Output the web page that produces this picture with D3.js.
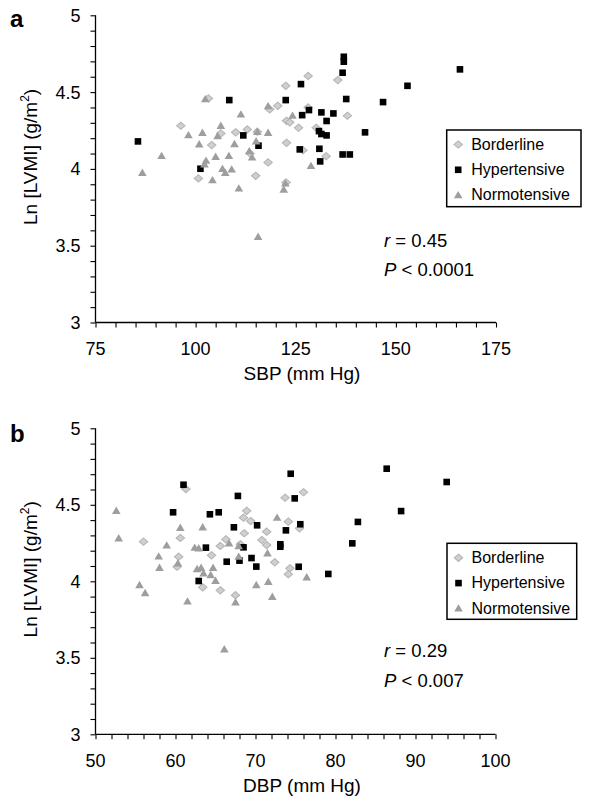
<!DOCTYPE html>
<html><head><meta charset="utf-8">
<script src="https://cdn.jsdelivr.net/npm/d3@7"></script>
<style>body{margin:0;background:#fff}svg{display:block}text{font-family:"Liberation Sans",Arial,sans-serif;fill:#000}</style>
</head><body>
<svg id="c" width="592" height="803"></svg>
<script>
// ---------- Data ----------
const seriesNames = ["Borderline", "Hypertensive", "Normotensive"];

// Panel a: SBP (mm Hg) vs Ln[LVMI]
const sbpBorderline = [[103.2,4.459],[96.3,4.281],[106.3,4.231],[104,4.155],[110,4.238],[112.9,4.257],[115.4,4.242],[113.6,4.101],[118.1,4.042],[115,3.955],[100.7,3.938],[118.5,4.388],[120.5,4.411],[122.5,4.541],[128.1,4.605],[122.7,4.313],[123.5,4.303],[125.7,4.268],[122.7,4.17],[122.6,3.912],[128.1,4.40],[135.5,4.578],[137.9,4.346],[130.1,4.268],[126.8,4.122],[132.6,4.083]];
const sbpHypertensive = [[85.6,4.179],[101.2,4.001],[108.4,4.448],[111.9,4.218],[115.7,4.151],[126.3,4.552],[122.5,4.448],[128.3,4.383],[126.6,4.35],[131.4,4.368],[130.8,4.246],[131.4,4.227],[132.7,4.218],[126,4.127],[130.9,4.131],[131.1,4.049],[137,4.73],[137,4.698],[136.7,4.626],[137.6,4.455],[146.8,4.435],[152.9,4.541],[166,4.648],[132.7,4.312],[134.4,4.361],[142.3,4.238],[136.7,4.094],[138.5,4.094]];
const sbpNormotensive = [[102.4,4.454],[111.3,4.355],[106.3,4.281],[98.2,4.22],[101.7,4.235],[105.5,4.214],[100.9,4.16],[109.7,4.162],[115.4,4.242],[118.1,4.235],[115.1,4.18],[91.5,4.085],[86.7,3.975],[105,4.079],[108.3,4.085],[102.6,4.054],[102.2,4.03],[113.4,4.116],[114.1,4.075],[106.7,4.001],[107.4,3.975],[109,3.997],[104.2,3.927],[110.8,3.873],[122.4,3.906],[122,3.866],[115.6,3.558],[118.1,4.409],[124.2,4.347],[128.8,4.02]];

// Panel b: DBP (mm Hg) vs Ln[LVMI]
const dbpBorderline = [[61.3,4.603],[56,4.259],[60.6,4.283],[60.4,4.161],[60.2,4.095],[63.4,3.961],[64.5,4.17],[65.6,4.231],[66.3,4.274],[65.6,3.941],[67.5,3.909],[68.1,4.242],[68.6,4.314],[68.9,4.461],[68.5,4.416],[69.4,4.394],[71.4,4.324],[70.8,4.27],[71.4,4.237],[72.4,4.124],[73.7,4.546],[74.1,4.39],[74.3,4.085],[74.1,4.046],[76,4.582],[75.5,4.346]];
const dbpHypertensive = [[61,4.631],[59.7,4.451],[64.3,4.438],[65.4,4.451],[67.8,4.558],[67.3,4.353],[63.8,4.22],[68.5,4.222],[62.9,4.002],[66.4,4.128],[68,4.135],[69.5,4.152],[70.1,4.096],[70.2,4.366],[73.8,4.333],[73.1,4.242],[73.1,4.226],[74.4,4.703],[74.9,4.542],[75.6,4.373],[75.4,4.095],[86.4,4.736],[93.9,4.649],[88.2,4.459],[82.8,4.388],[82.1,4.248],[79.1,4.048]];
const dbpNormotensive = [[52.6,4.461],[52.9,4.281],[60.6,4.35],[63.4,4.353],[58.9,4.235],[57.9,4.163],[58,4.089],[55.5,3.976],[56.2,3.924],[61.5,3.869],[62.4,4.22],[62.9,4.216],[60.3,4.118],[62.7,4.08],[63.2,4.089],[63.5,4.052],[64.7,4.089],[64.4,4.041],[65,4.004],[66.7,4.248],[67.9,4.231],[67.9,4.161],[67.5,3.863],[66.1,3.556],[70.1,3.976],[71.6,3.997],[72.1,3.899],[71.5,4.183],[72.7,4.416],[76.4,4.026]];

const yTickLabels = ["3", "3.5", "4", "4.5", "5"];
const sbpTickLabels = ["75", "100", "125", "150", "175"];
const dbpTickLabels = ["50", "60", "70", "80", "90", "100"];
const statsA = ["0.45", "0.0001"];
const statsB = ["0.29", "0.007"];

// ---------- Drawing ----------
const svg = d3.select("#c");
svg.append("rect").attr("width",592).attr("height",803).attr("fill","#fff");

const styles = {
  Borderline:   {fill:"#cfcfcf", stroke:"#b5b5b5"},
  Hypertensive: {fill:"#000", stroke:"none"},
  Normotensive: {fill:"#9e9e9e", stroke:"none"}
};
function drawMarker(g, name, x, y) {
  const s = styles[name];
  if (name === "Borderline") {
    g.append("path").attr("d", d3.symbol(d3.symbolDiamond2, 34)())
      .attr("transform", `translate(${x},${y}) scale(1.15,1)`).attr("fill", s.fill).attr("stroke", s.stroke).attr("stroke-width", 1);
  } else if (name === "Hypertensive") {
    g.append("rect").attr("x", x-3.3).attr("y", y-3.3).attr("width", 6.6).attr("height", 6.6).attr("fill", s.fill);
  } else {
    g.append("path").attr("d", `M${x},${y-4.2}L${x+4.3},${y+3.2}L${x-4.3},${y+3.2}Z`).attr("fill", s.fill);
  }
}

function panel(cfg) {
  const x = d3.scaleLinear().domain(cfg.xDomain).range([cfg.left, cfg.right]);
  const y = d3.scaleLinear().domain([3, 5]).range([cfg.bottom, cfg.top]);
  const g = svg.append("g");

  // y axis
  const ya = g.append("g").attr("transform", `translate(${cfg.left},0)`)
    .call(d3.axisLeft(y).tickValues(d3.range(30, 51).map(v => v/10)).tickSize(5).tickFormat(""));
  ya.select(".domain").attr("stroke","#000").attr("stroke-width",1.3).attr("d", `M0,${cfg.bottom}V${cfg.top}`);
  ya.selectAll(".tick line").attr("stroke","#000").attr("stroke-width",1.1);
  yTickLabels.forEach(t => {
    g.append("text").attr("x", cfg.left - 15).attr("y", y(+t)).attr("dy","0.36em")
      .attr("text-anchor","end").attr("font-size",18).text(t);
  });

  // x axis
  const xa = g.append("g").attr("transform", `translate(0,${cfg.bottom})`)
    .call(d3.axisBottom(x).tickValues(d3.range(cfg.xDomain[0], cfg.xDomain[1] + 0.001, cfg.minor)).tickSize(5).tickFormat(""));
  xa.select(".domain").attr("stroke","#000").attr("stroke-width",1.3).attr("d", `M${cfg.left},0H${cfg.right}`);
  xa.selectAll(".tick line").attr("stroke","#000").attr("stroke-width",1.1);
  cfg.xLabels.forEach(t => {
    g.append("text").attr("x", x(+t)).attr("y", cfg.bottom + 32.5)
      .attr("text-anchor","middle").attr("font-size",18).text(t);
  });

  // titles
  g.append("text").attr("x", 302).attr("y", cfg.bottom + 57.5).attr("text-anchor","middle")
    .attr("font-size",19).text(cfg.xTitle);
  const yt = g.append("text").attr("transform", `translate(37,${(cfg.top+cfg.bottom)/2 - 12}) rotate(-90)`)
    .attr("text-anchor","middle").attr("font-size",19);
  yt.append("tspan").text("Ln [LVMI] (g/m");
  yt.append("tspan").attr("font-size",12).attr("dy",-8).text("2");
  yt.append("tspan").attr("dy",8).text(")");

  // panel label
  g.append("text").attr("x", 10).attr("y", cfg.top + cfg.labelDy).attr("font-size",24)
    .attr("font-weight","bold").text(cfg.label);

  // points
  const pg = g.append("g");
  cfg.series.forEach((data, i) => {
    data.forEach(d => drawMarker(pg, seriesNames[i], x(d[0]), y(d[1])));
  });

  // legend
  const lg = g.append("g");
  lg.append("rect").attr("x", cfg.legend[0]).attr("y", cfg.legend[1]).attr("width", cfg.legend[2]).attr("height", cfg.legend[3])
    .attr("fill","#fff").attr("stroke","#000").attr("stroke-width",1.5);
  seriesNames.forEach((n, i) => {
    const yy = cfg.legend[1] + 14 + i * 25.3;
    drawMarker(lg, n, cfg.legend[0] + 11.5, yy + 0.5);
    lg.append("text").attr("x", cfg.legend[0] + 24.5).attr("y", yy).attr("dy","0.36em")
      .attr("font-size",16).text(n);
  });

  // stats
  const st = g.append("g").attr("font-size",18.5);
  const t1 = st.append("text").attr("x", 384).attr("y", cfg.statsY[0]);
  t1.append("tspan").attr("font-style","italic").text("r");
  t1.append("tspan").text(" = " + cfg.stats[0]);
  const t2 = st.append("text").attr("x", 384).attr("y", cfg.statsY[1]);
  t2.append("tspan").attr("font-style","italic").text("P");
  t2.append("tspan").text(" < " + cfg.stats[1]);
}

panel({
  xDomain:[75,175], minor:5, left:95.5, right:496, top:15.3, bottom:322.5,
  xLabels: sbpTickLabels, xTitle:"SBP (mm Hg)", label:"a", labelDy:12,
  series:[sbpBorderline, sbpHypertensive, sbpNormotensive],
  legend:[446.7,130,134.3,76.7], stats: statsA, statsY:[246.5,275.5]
});
panel({
  xDomain:[50,100], minor:2, left:95.5, right:495.5, top:428.3, bottom:734.3,
  xLabels: dbpTickLabels, xTitle:"DBP (mm Hg)", label:"b", labelDy:14,
  series:[dbpBorderline, dbpHypertensive, dbpNormotensive],
  legend:[447,543.3,129.7,76], stats: statsB, statsY:[656.7,686.7]
});
</script>
</body></html>
